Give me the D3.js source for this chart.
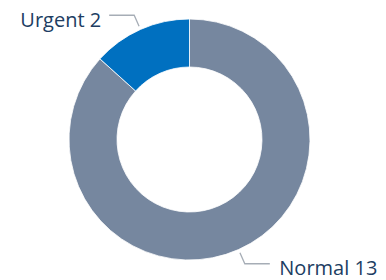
<!DOCTYPE html>
<html lang="en">
<head>
<meta charset="utf-8">
<style type="text/css">
    body { margin: 0; background: #fff; }
    .label { font-family: "Open Sans", sans-serif; font-size: 20px; fill: #203d62; }
    .leader { fill: none; stroke: #a6adb6; stroke-width: 1.3px; }
</style>
</head>
<body>
<svg width="386" height="280"></svg>
<script src="https://cdn.jsdelivr.net/npm/d3@7"></script>
<script type="text/javascript">
    var categories = ["Normal", "Urgent"];
    var values = [13, 2];
    var colours = ["#76879f", "#0070c0"];

    var svg = d3.select("svg"),
        cx = 189.5,
        cy = 139.5,
        outer = 120.5,
        inner = 72.5;

    var data = categories.map(function (c, i) { return {name: c, value: values[i]}; });

    var pie = d3.pie().sort(null).value(function (d) { return d.value; });
    var arc = d3.arc().innerRadius(inner).outerRadius(outer);
    var colour = d3.scaleOrdinal().domain(categories).range(colours);

    var g = svg.append("g").attr("transform", "translate(" + cx + "," + cy + ")");
    var arcs = pie(data);

    g.selectAll(".slice")
        .data(arcs)
        .enter()
        .append("path")
        .attr("class", "slice")
        .attr("d", arc)
        .style("fill", function (d) { return colour(d.data.name); })
        .style("stroke", "#fff")
        .style("stroke-width", 0.8);

    // leader lines: from just outside the ring, out to an elbow, then horizontal
    function pt(a, r) { return [r * Math.sin(a), -r * Math.cos(a)]; }

    arcs.forEach(function (d) {
        var mid = (d.startAngle + d.endAngle) / 2,
            right = Math.sin(mid) > 0,
            p0 = pt(mid, 124),
            p1 = pt(mid, 136),
            p2 = [p1[0] + (right ? 25 : -25), p1[1]];

        g.append("polyline")
            .attr("class", "leader")
            .attr("points", [p0, p1, p2].map(function (p) { return p.join(","); }).join(" "));

        g.append("text")
            .attr("class", "label")
            .attr("x", p2[0] + (right ? 9.5 : -8))
            .attr("y", p1[1] + (right ? 10.8 : 12))
            .attr("text-anchor", right ? "start" : "end")
            .text(d.data.name + " " + d.data.value);
    });
</script>
</body>
</html>
